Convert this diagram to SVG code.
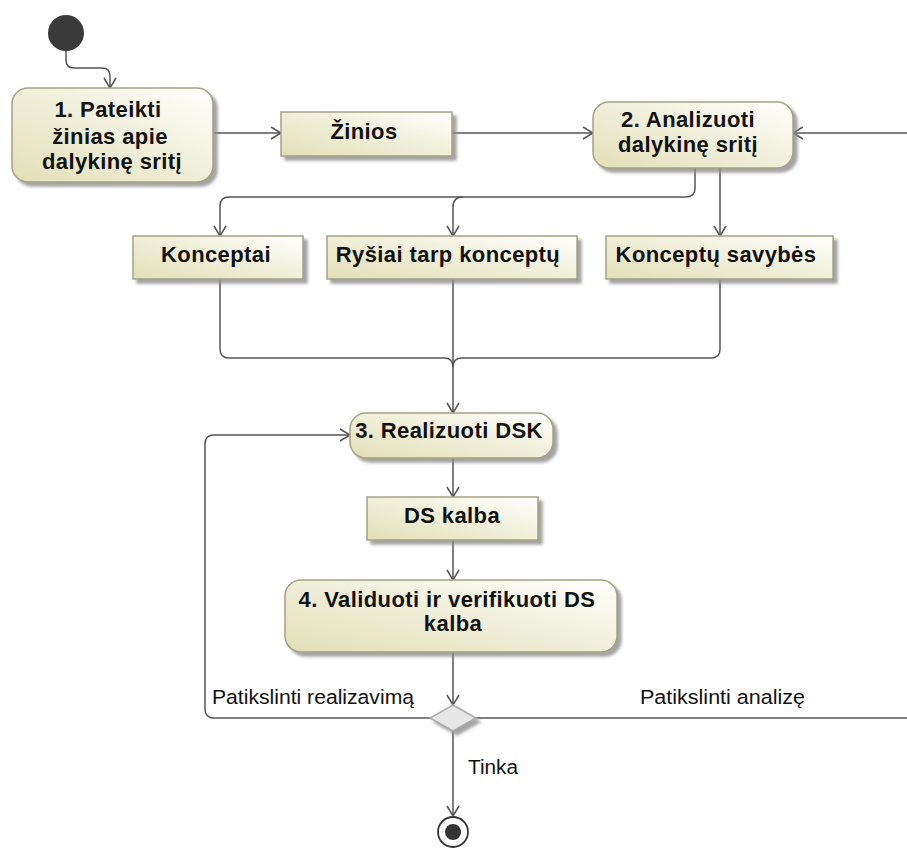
<svg xmlns="http://www.w3.org/2000/svg" width="907" height="852" viewBox="0 0 907 852">
  <defs>
    <linearGradient id="fillGrad" x1="0" y1="1" x2="1" y2="0">
      <stop offset="0" stop-color="#e2dfb6"/>
      <stop offset="0.55" stop-color="#f1f0dc"/>
      <stop offset="1" stop-color="#ffffff"/>
    </linearGradient>
    <filter id="shadow" x="-10%" y="-20%" width="130%" height="150%">
      <feDropShadow dx="4" dy="4" stdDeviation="1.5" flood-color="#8c8c8c" flood-opacity="0.8"/>
    </filter>
    <marker id="arrow" viewBox="0 0 12 14" refX="11" refY="7" markerWidth="12" markerHeight="14" markerUnits="userSpaceOnUse" orient="auto">
      <path d="M1 1 L11 7 L1 13" fill="none" stroke="#555" stroke-width="1.5"/>
    </marker>
    <style>
      .action { fill: url(#fillGrad); stroke: #a3a383; stroke-width: 1.5; filter: url(#shadow); }
      .object { fill: url(#fillGrad); stroke: #a3a383; stroke-width: 1.5; filter: url(#shadow); }
      .title { font-family: "Liberation Sans", Arial, sans-serif; font-weight: bold; font-size: 22px; letter-spacing: 0.4px; fill: #111; text-anchor: middle; }
      .label { font-family: "Liberation Sans", Arial, sans-serif; font-size: 19.5px; fill: #111; }
      .edge { fill: none; stroke: #555; stroke-width: 1.5; }
    </style>
  </defs>

  <rect width="907" height="852" fill="#ffffff"/>

  <!-- connectors -->
  <g id="connectors">
    <path class="edge" d="M66 50 V60 Q66 68 74 68 H102 Q110 68 110 76 V88" marker-end="url(#arrow)"/>
    <path class="edge" d="M213 133 H281" marker-end="url(#arrow)"/>
    <path class="edge" d="M452 133 H593" marker-end="url(#arrow)"/>
    <path class="edge" d="M907 133 H793" marker-end="url(#arrow)"/>
    <path class="edge" d="M695 168 V188 Q695 197 686 197 H229 Q220 197 220 206 V236" marker-end="url(#arrow)"/>
    <path class="edge" d="M463 197 Q453 197 453 207 V236" marker-end="url(#arrow)"/>
    <path class="edge" d="M720 168 V236" marker-end="url(#arrow)"/>
    <path class="edge" d="M220 279 V349 Q220 358 229 358 H444 Q453 358 453 367"/>
    <path class="edge" d="M720 279 V349 Q720 358 711 358 H462 Q453 358 453 367"/>
    <path class="edge" d="M453 279 V413" marker-end="url(#arrow)"/>
    <path class="edge" d="M453 458 V497" marker-end="url(#arrow)"/>
    <path class="edge" d="M453 540 V580" marker-end="url(#arrow)"/>
    <path class="edge" d="M453 652 V705" marker-end="url(#arrow)"/>
    <path class="edge" d="M430 718 H214 Q205 718 205 709 V444 Q205 435 214 435 H350" marker-end="url(#arrow)"/>
    <path class="edge" d="M476 718 H907"/>
    <path class="edge" d="M453 731 V816" marker-end="url(#arrow)"/>
  </g>

  <!-- edge labels -->
  <g id="edge-labels">
    <text class="label" x="212" y="704" textLength="202" lengthAdjust="spacingAndGlyphs">Patikslinti realizavimą</text>
    <text class="label" x="640" y="704" textLength="165" lengthAdjust="spacingAndGlyphs">Patikslinti analizę</text>
    <text class="label" x="468" y="774" textLength="50" lengthAdjust="spacingAndGlyphs">Tinka</text>
  </g>

  <!-- start -->
  <g id="start">
    <circle cx="66" cy="33" r="18" fill="#3a3a3a"/>
  </g>

  <g id="a1">
    <rect class="action" x="12" y="88" width="201" height="94" rx="16"/>
    <text class="title" x="108" y="117">1. Pateikti</text>
    <text class="title" x="110" y="144">žinias apie</text>
    <text class="title" x="112" y="169">dalykinę sritį</text>
  </g>

  <g id="o-zinios">
    <rect class="object" x="281" y="112" width="171" height="44"/>
    <text class="title" x="364" y="139">Žinios</text>
  </g>

  <g id="a2">
    <rect class="action" x="593" y="102" width="200" height="66" rx="16"/>
    <text class="title" x="688" y="127">2. Analizuoti</text>
    <text class="title" x="688" y="152">dalykinę sritį</text>
  </g>

  <g id="o-konceptai">
    <rect class="object" x="133" y="236" width="170" height="43"/>
    <text class="title" x="216" y="262">Konceptai</text>
  </g>

  <g id="o-rysiai">
    <rect class="object" x="327" y="236" width="250" height="43"/>
    <text class="title" x="448" y="262">Ryšiai tarp konceptų</text>
  </g>

  <g id="o-savybes">
    <rect class="object" x="606" y="236" width="227" height="43"/>
    <text class="title" x="716" y="262">Konceptų savybės</text>
  </g>

  <g id="a3">
    <rect class="action" x="350" y="413" width="203" height="45" rx="16"/>
    <text class="title" x="449" y="438">3. Realizuoti DSK</text>
  </g>

  <g id="o-dskalba">
    <rect class="object" x="367" y="497" width="171" height="43"/>
    <text class="title" x="452" y="523">DS kalba</text>
  </g>

  <g id="a4">
    <rect class="action" x="285" y="580" width="332" height="72" rx="16"/>
    <text class="title" x="447" y="607">4. Validuoti ir verifikuoti DS</text>
    <text class="title" x="453" y="631">kalba</text>
  </g>

  <g id="decision">
    <polygon points="453,705 476,718 453,731 430,718" fill="#e6e6e6" stroke="#aaa" stroke-width="1.5" filter="url(#shadow)"/>
  </g>

  <g id="end">
    <circle cx="453" cy="832" r="15" fill="#fff" stroke="#333" stroke-width="1.8"/>
    <circle cx="453" cy="832" r="8" fill="#333"/>
  </g>
</svg>
